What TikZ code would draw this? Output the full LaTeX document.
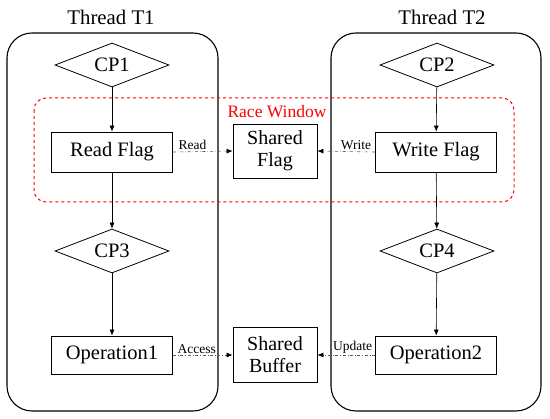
\documentclass[tikz,border=0pt]{standalone}
\usepackage{fontspec}
\setmainfont{Liberation Serif}
\usetikzlibrary{shapes.geometric,arrows.meta}

\tikzset{
    box/.style={draw, thick, rectangle, minimum width=121pt, minimum height=40pt, inner sep=0pt, font=\fontsize{20.5}{23}\selectfont},
    cpnode/.style={draw, thick, diamond, aspect=2.6, minimum width=114pt, minimum height=44pt, inner sep=0pt, font=\fontsize{20.5}{23}\selectfont},
    shared/.style={box, minimum width=84pt, minimum height=54pt, align=center, font=\fontsize{20}{22}\selectfont},
    flow/.style={->, line width=0.6pt},
    access/.style={-{Latex[length=6pt,width=5pt,color=black]}, gray!70!black, dash dot, line width=0.6pt},
    lbl/.style={font=\fontsize{13.5}{15}\selectfont, inner sep=1.5pt}
}

\begin{document}
\begin{tikzpicture}[x=1pt, y=-1pt, >={Latex[length=6pt,width=5pt]}]
    \useasboundingbox (0,0) rectangle (550,419);

    % Thread frames
    \draw[line width=1.1pt, rounded corners=25pt] (7,33) rectangle (218,411);
    \draw[line width=1.1pt, rounded corners=25pt] (331,33) rectangle (541,411);
    \node[font=\fontsize{20.8}{23}\selectfont] (t1) at (111,17) {Thread T1};
    \node[font=\fontsize{20.8}{23}\selectfont] (t2) at (442,17) {Thread T2};

    % Race window
    \draw[red, dashed, line width=1pt, rounded corners=12pt] (34,98) rectangle (514,202);
    \node[red, font=\fontsize{17.5}{20}\selectfont] (race) at (277,112) {Race Window};

    % Thread T1
    \node[cpnode] (cp1) at (112,65) {CP1};
    \node[box] (read) at (112,152) {Read Flag};
    \node[cpnode] (cp3) at (112,251) {CP3};
    \node[box, minimum height=38pt] (op1) at (112,355) {Operation1};

    % Thread T2
    \node[cpnode] (cp2) at (437,65) {CP2};
    \node[box] (write) at (436,152) {Write Flag};
    \node[cpnode] (cp4) at (437,251) {CP4};
    \node[box, minimum height=38pt] (op2) at (436,355) {Operation2};

    % Shared resources
    \node[shared] (flag) at (275,151) {Shared\\Flag};
    \node[shared, minimum height=55pt] (buffer) at (275,355) {Shared\\Buffer};

    % Control flow
    \draw[flow] (cp1) -- (read);
    \draw[flow] (read) -- (cp3);
    \draw[flow] (cp3) -- (op1);
    \draw[flow] (cp2) -- (write);
    \draw[flow] (write) -- (cp4);
    \draw[flow] (cp4) -- (op2);

    % Accesses
    \draw[access] (read.east) -- (flag.west) node[lbl, pos=0.33, above, black] {Read};
    \draw[access] (write.west) -- (flag.east) node[lbl, pos=0.33, above, black] {Write};
    \draw[access] (op1.east) -- (buffer.west) node[lbl, pos=0.4, above, black] {Access};
    \draw[access] (op2.west) -- (buffer.east) node[lbl, pos=0.39, above, black] {Update};
\end{tikzpicture}
\end{document}
